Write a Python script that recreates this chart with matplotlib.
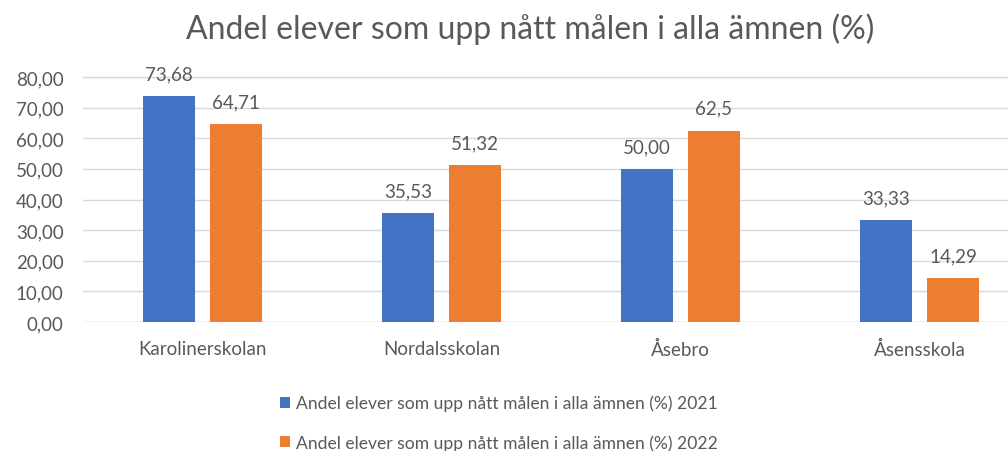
import matplotlib
matplotlib.use("Agg")
import matplotlib.pyplot as plt
import numpy as np

categories = ["Karolinerskolan", "Nordalsskolan", "Åsebro", "Åsensskola"]
values_2021 = [73.68, 35.53, 50.00, 33.33]
values_2022 = [64.71, 51.32, 62.5, 14.29]
labels_2021 = ["73,68", "35,53", "50,00", "33,33"]
labels_2022 = ["64,71", "51,32", "62,5", "14,29"]
series_names = ["Andel elever som upp nått målen i alla ämnen (%) 2021",
                "Andel elever som upp nått målen i alla ämnen (%) 2022"]
yticks = [0, 10, 20, 30, 40, 50, 60, 70, 80]
title = "Andel elever som upp nått målen i alla ämnen (%)"

plt.rcParams['font.family'] = ['Lato', 'DejaVu Sans']
gray = "#595959"
blue = "#4472C4"
orange = "#ED7D31"

W, H = 1008, 452
fig = plt.figure(figsize=(W/100, H/100), dpi=100)
left_px, right_px = 83, 1039
top_px, bottom_px = 78, 323
ax = fig.add_axes([left_px/W, 1-bottom_px/H, (right_px-left_px)/W, (bottom_px-top_px)/H])

x = np.arange(len(categories))
bw = 0.2174
off = 0.14
b1 = ax.bar(x - off, values_2021, bw, color=blue, label=series_names[0], zorder=3)
b2 = ax.bar(x + off, values_2022, bw, color=orange, label=series_names[1], zorder=3)

for bars, labs in ((b1, labels_2021), (b2, labels_2022)):
    for rect, lab in zip(bars, labs):
        ax.annotate(lab, (rect.get_x()+rect.get_width()/2, rect.get_height()),
                    xytext=(0, 10), textcoords="offset points", ha="center", va="bottom",
                    fontsize=13.5, color=gray)

ax.set_xlim(-0.5, len(categories)-0.5)
ax.set_ylim(0, 80)
ax.set_yticks(yticks)
ax.set_yticklabels([f"{v:.2f}".replace(".", ",") for v in yticks])
ax.set_xticks(x)
ax.set_xticklabels(categories)
ax.tick_params(axis='both', length=0, colors=gray)
ax.tick_params(axis='y', labelsize=13.5, pad=14)
ax.tick_params(axis='x', labelsize=13.5, pad=13)
ax.yaxis.grid(True, color="#D9D9D9", lw=1, zorder=0)
for s in ax.spines.values():
    s.set_visible(False)
ax.set_axisbelow(True)
ax.axhline(0, color="#D9D9D9", lw=1, zorder=2)
ax.axhline(80, color="#D9D9D9", lw=1, zorder=2, clip_on=False)

fig.text(530/W, 1-29/H, title, ha="center", va="center", fontsize=23, color=gray)

leg = fig.legend(handles=[b1, b2], loc="upper left", bbox_to_anchor=(271/W, 1-387/H),
                 frameon=False, fontsize=12.6, labelcolor=gray, handlelength=0.6,
                 handleheight=0.6, handletextpad=0.35, labelspacing=1.3, borderpad=0)

fig.savefig("out.png", dpi=100)
